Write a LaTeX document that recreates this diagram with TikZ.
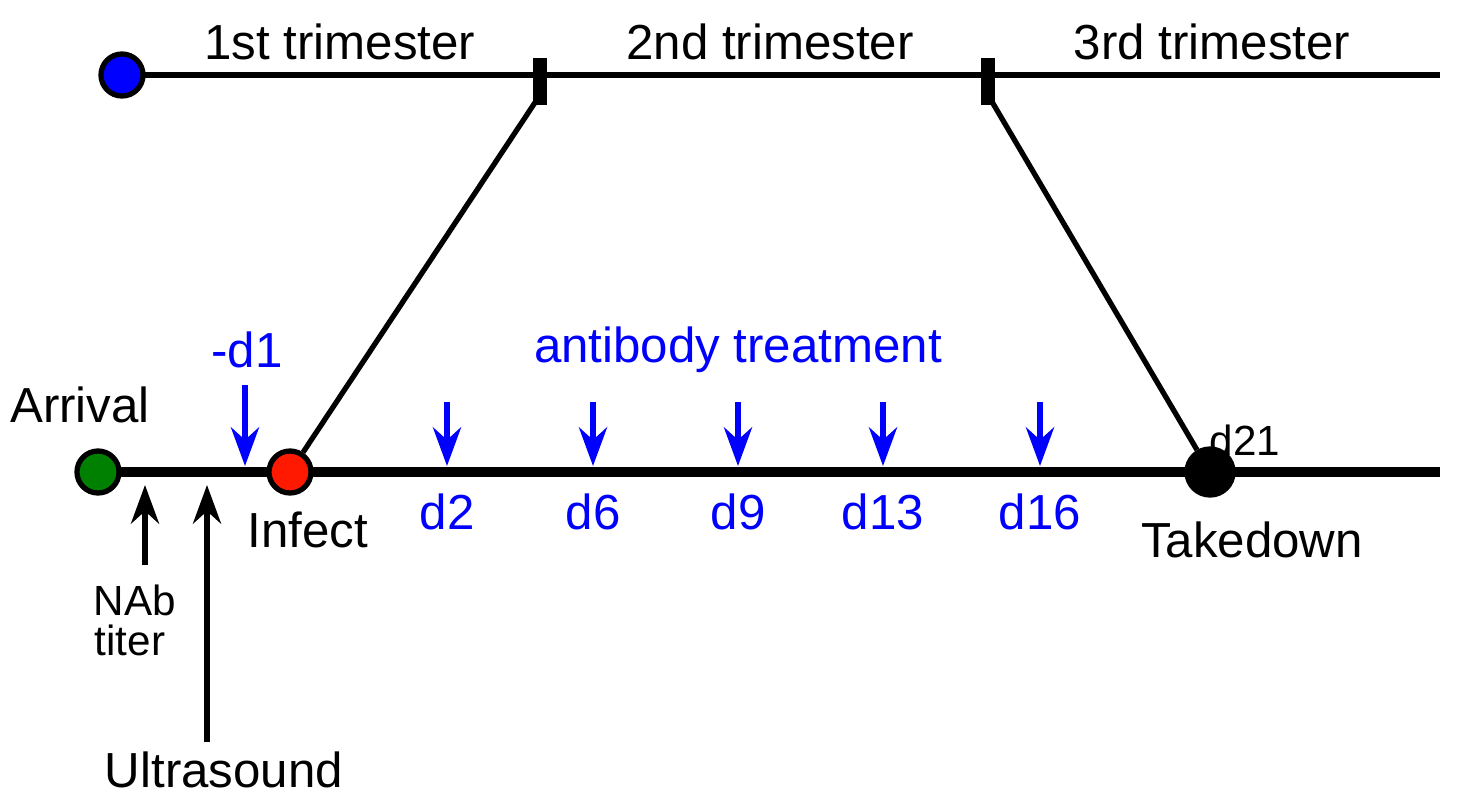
\documentclass[tikz,border=0pt]{standalone}
\usepackage{fontspec}
\setmainfont{Liberation Sans}
\usetikzlibrary{arrows.meta}
\begin{document}
\begin{tikzpicture}[x=0.01cm, y=-0.01cm,
	dot/.style={circle, draw, line width=1.5pt, minimum size=0.42cm, inner sep=0pt},
	shot/.style={blue, line width=1.5pt, -{Stealth[length=11pt,width=8pt]}},
	txt/.style={font=\fontsize{14}{16}\selectfont},
	small/.style={font=\fontsize{12}{14}\selectfont}]
	\useasboundingbox (0,0) rectangle (1471,800);
	
	% top timeline
	\draw [line width=1.5pt] (122,75) -- (1440,75);
	\node [dot, fill=blue] (start) at (122,75) {};
	\fill (533,58) rectangle (547,105);
	\fill (981,58) rectangle (995,105);
	\coordinate (t2) at (540,95);
	\coordinate (t3) at (988,95);
	\node [txt] at (340,42) {1st trimester};
	\node [txt] at (770,42) {2nd trimester};
	\node [txt] at (1212,42) {3rd trimester};
	
	% bottom timeline
	\draw [line width=3pt] (98,472) -- (1440,472);
	\node [dot, fill=green!50!black] (arrival) at (98,472) {};
	\node [dot, fill=red!80!orange] (infect) at (290,472) {};
	\node [dot, fill=black, minimum size=0.46cm] (takedown) at (1210,472) {};
	\draw [line width=1.5pt] (t2) -- (infect);
	\draw [line width=1.5pt] (t3) -- (takedown);
	
	\node [txt] at (80,405) {Arrival};
	\node [txt] at (308,530) {Infect};
	\node [small] at (1245,440) {d21};
	\node [txt] at (1252,540) {Takedown};
	
	% antibody doses
	\foreach \x/\d in {447/d2, 593/d6, 738/d9, 883/d13, 1040/d16} {
		\draw [shot] (\x,402) -- (\x,466);
		\node [txt, blue] at (\x,512) {\d};
	}
	\draw [shot] (245,385) -- (245,466);
	\node [txt, blue] at (247,350) {-d1};
	\node [txt, blue] at (738,350) {antibody treatment};
	
	% sampling
	\draw [line width=1.5pt, -{Stealth[length=11pt,width=8pt]}] (145,565) -- (145,485);
	\draw [line width=1.5pt, -{Stealth[length=11pt,width=8pt]}] (207,742) -- (207,485);
	\node [small] at (135,600) {NAb};
	\node [small] at (130,640) {titer};
	\node [txt] at (224,770) {Ultrasound};
\end{tikzpicture}
\end{document}
